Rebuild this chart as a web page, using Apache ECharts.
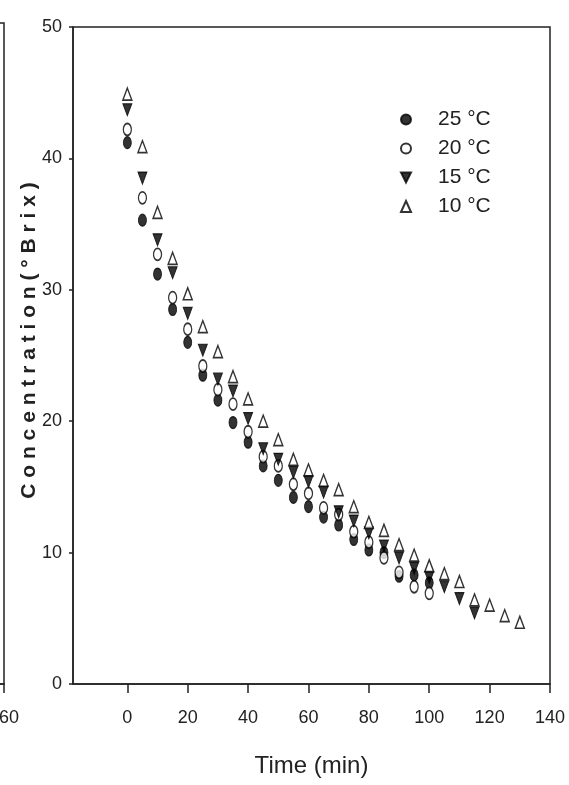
<!DOCTYPE html>
<html>
<head>
<meta charset="utf-8">
<script src="https://cdn.jsdelivr.net/npm/echarts@6/dist/echarts.min.js"></script>
<style>
  html, body { margin: 0; padding: 0; background: #fff; }
  #chart { width: 569px; height: 785px; }
</style>
</head>
<body>
<div id="chart"></div>
<script>
// Sampling times (min)
const timesLong = [0,5,10,15,20,25,30,35,40,45,50,55,60,65,70,75,80,85,90,95,100,105,110,115,120,125,130];

// Concentration (°Brix) for each drying temperature
const conc25 = [41.2,35.3,31.2,28.5,26.0,23.5,21.6,19.9,18.4,16.6,15.5,14.2,13.5,12.7,12.1,11.0,10.2,10.0,8.2,8.3,7.7];
const conc20 = [42.2,37.0,32.7,29.4,27.0,24.2,22.4,21.3,19.2,17.3,16.6,15.2,14.5,13.4,12.9,11.6,10.8,9.6,8.5,7.4,6.9];
const conc15 = [43.7,38.5,33.8,31.3,28.2,25.4,23.2,22.3,20.2,17.9,17.1,16.1,15.4,14.6,13.1,12.4,11.5,10.5,9.6,8.8,8.1,7.4,6.5,5.4];
const conc10 = [44.9,40.9,35.9,32.4,29.7,27.2,25.3,23.4,21.7,20.0,18.6,17.1,16.3,15.5,14.8,13.5,12.3,11.7,10.6,9.8,9.0,8.4,7.8,6.4,6.0,5.2,4.7];

const seriesNames = ['25 °C', '20 °C', '15 °C', '10 °C'];

// Axis ticks
const xTicks = [0,20,40,60,80,100,120,140];
const edgeTicks = [160];

function pairs(vals) {
  return vals.map((v, i) => [timesLong[i], v]);
}

const narrow = '"Liberation Sans Narrow", "Arial Narrow", sans-serif';
const downTri = 'path://M0,0L2,0L1,2Z';
const ink = '#222';

const chart = echarts.init(document.getElementById('chart'), null, { renderer: 'canvas' });

chart.setOption({
  backgroundColor: '#fff',
  animation: false,
  grid: [
    { left: 73, right: 19, top: 27, bottom: 101, show: true, borderColor: ink, borderWidth: 1.5,
      backgroundColor: 'transparent', outerBoundsMode: 'none', containLabel: false },
    // right edge of the neighbouring panel
    { left: -296, width: 300, top: 23, bottom: 101, show: true, borderColor: ink, borderWidth: 1.5,
      backgroundColor: 'transparent', outerBoundsMode: 'none', containLabel: false }
  ],
  legend: {
    left: 395,
    top: 104,
    orient: 'vertical',
    itemWidth: 10,
    itemHeight: 11,
    itemGap: 8,
    data: seriesNames,
    textStyle: { fontFamily: '"Liberation Sans", Arial, sans-serif', fontSize: 21, color: ink, padding: [0, 0, 0, 22] }
  },
  xAxis: [
    {
      gridIndex: 0,
      type: 'value',
      min: -18,
      max: 140,
      splitLine: { show: false },
      axisLine: { onZero: false, lineStyle: { color: ink, width: 1.5 } },
      axisTick: { show: true, length: 9, customValues: xTicks, lineStyle: { color: ink, width: 1.5 } },
      axisLabel: { customValues: xTicks, margin: 25, fontFamily: narrow, fontSize: 18, color: ink },
      name: 'Time (min)',
      nameLocation: 'middle',
      nameGap: 70,
      nameMoveOverlap: false,
      nameTextStyle: { fontFamily: narrow, fontSize: 24, color: ink }
    },
    {
      gridIndex: 1,
      type: 'value',
      min: 0,
      max: 160,
      splitLine: { show: false },
      axisLine: { onZero: false, lineStyle: { color: ink, width: 1.5 } },
      axisTick: { show: true, length: 9, customValues: edgeTicks, lineStyle: { color: ink, width: 1.5 } },
      axisLabel: { customValues: edgeTicks, margin: 25, fontFamily: narrow, fontSize: 18, color: ink }
    }
  ],
  yAxis: [
    {
      gridIndex: 0,
      type: 'value',
      min: 0,
      max: 50,
      interval: 10,
      splitLine: { show: false },
      axisLine: { onZero: false, lineStyle: { color: ink, width: 1.5 } },
      axisTick: { show: true, length: 4, lineStyle: { color: ink, width: 1.5 } },
      axisLabel: { margin: 11, fontFamily: narrow, fontSize: 18, color: ink },
      name: 'C o n c e n t r a t i o n ( ° B r i x )',
      nameLocation: 'middle',
      nameGap: 33,
      nameMoveOverlap: false,
      nameTextStyle: { fontFamily: narrow, fontSize: 21, fontWeight: 'bold', color: ink, padding: [0, 0, 0, 30] }
    },
    {
      gridIndex: 1,
      type: 'value',
      min: 0,
      max: 50,
      interval: 10,
      splitLine: { show: false },
      axisLine: { onZero: false, lineStyle: { color: ink, width: 1.5 } },
      axisTick: { show: false },
      axisLabel: { show: false }
    }
  ],
  series: [
    {
      name: seriesNames[0], type: 'scatter', xAxisIndex: 0, yAxisIndex: 0,
      symbol: 'circle', symbolSize: [8, 12],
      itemStyle: { color: '#000', borderColor: '#000', borderWidth: 1 },
      data: pairs(conc25), z: 2
    },
    {
      name: seriesNames[1], type: 'scatter', xAxisIndex: 0, yAxisIndex: 0,
      symbol: 'circle', symbolSize: [8, 12],
      itemStyle: { color: '#fff', borderColor: '#000', borderWidth: 1.5 },
      data: pairs(conc20), z: 3
    },
    {
      name: seriesNames[2], type: 'scatter', xAxisIndex: 0, yAxisIndex: 0,
      symbol: downTri, symbolSize: [9, 12],
      itemStyle: { color: '#000', borderColor: '#000', borderWidth: 1 },
      data: pairs(conc15), z: 4
    },
    {
      name: seriesNames[3], type: 'scatter', xAxisIndex: 0, yAxisIndex: 0,
      symbol: 'triangle', symbolSize: [9, 12],
      itemStyle: { color: '#fff', borderColor: '#000', borderWidth: 1.5 },
      data: pairs(conc10), z: 5
    }
  ]
});
</script>
</body>
</html>
